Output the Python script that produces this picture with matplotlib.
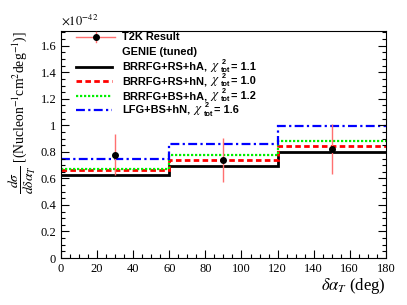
import numpy as np
import matplotlib.pyplot as plt
from matplotlib.lines import Line2D
from matplotlib.ticker import MultipleLocator

plt.rcParams['mathtext.fontset'] = 'stix'
plt.rcParams['font.family'] = 'Liberation Serif'

# bin edges and model predictions (units of 1e-42)
edges = [0, 60, 120, 180]
brrfg_rs_ha = [0.626, 0.69, 0.80]
brrfg_rs_hn = [0.66, 0.74, 0.845]
brrfg_bs_ha = [0.67, 0.78, 0.88]
lfg_bs_hn = [0.75, 0.86, 0.995]

# T2K data
data_x = [30, 90, 150]
data_y = [0.78, 0.74, 0.82]
data_err = [0.155, 0.165, 0.19]

# legend text
model_names = ['BRRFG+RS+hA,', 'BRRFG+RS+hN,', 'BRRFG+BS+hA,', 'LFG+BS+hN,']
chi2_vals = ['1.1', '1.0', '1.2', '1.6']

W, H = 407, 305
fig = plt.figure(figsize=(W / 100, H / 100), dpi=100)
ax = fig.add_axes([0.150, 0.154, 0.798, 0.744])

styles = [
    dict(color='black', lw=2.0),
    dict(color='#ff0000', lw=2.0, ls=(0, (2, 1.2))),
    dict(color='#00ee00', lw=1.6, ls=(0, (1, 0.8))),
    dict(color='#0000ff', lw=1.6, ls=(0, (4, 1.5, 1, 1.5))),
]
models = [brrfg_rs_ha, brrfg_rs_hn, brrfg_bs_ha, lfg_bs_hn]
for vals, st in zip(models, styles):
    ax.stairs(vals, edges, baseline=None, **st)

err_col = '#ff7070'
ax.errorbar(data_x, data_y, yerr=data_err, fmt='o', color='black', ms=4,
            ecolor=err_col, elinewidth=1.0, capsize=0)

ax.set_xlim(0, 180)
ax.set_ylim(0, 1.71)
ax.xaxis.set_major_locator(MultipleLocator(20))
ax.xaxis.set_minor_locator(MultipleLocator(5))
ax.yaxis.set_major_locator(MultipleLocator(0.2))
ax.yaxis.set_minor_locator(MultipleLocator(0.05))
ax.tick_params(which='both', direction='in', right=True, top=False, labelsize=9)
ax.tick_params(which='major', length=6, width=0.8)
ax.tick_params(which='minor', length=3, width=0.8)
ax.yaxis.set_major_formatter(plt.FuncFormatter(lambda v, p: '%g' % v))

ax.text(0.0, 1.015, r'$\times10^{-42}$', transform=ax.transAxes, fontsize=9,
        ha='left', va='bottom')
ax.set_xlabel(r'$\delta\alpha_T$ (deg)', fontsize=12, loc='right', labelpad=1)
ax.set_ylabel(r'$\dfrac{d\sigma}{d\delta\alpha_T}$ [(Nucleon$^{-1}$cm$^2$deg$^{-1}$)]',
              fontsize=9.8, loc='top', labelpad=2)

# legend, laid out by hand in pixels (ROOT style)
row_y = [37, 52, 67, 81, 96, 110]
x0, x1, xt = 76, 112, 122
fx = lambda px: px / W
fy = lambda py: 1 - py / H
lfont = {'family': 'Liberation Sans', 'weight': 'bold', 'size': 7.9}
sfont = {'family': 'Liberation Sans', 'weight': 'bold', 'size': 5.2}
renderer = fig.canvas.get_renderer()

def right_px(t):
    return t.get_window_extent(renderer).x1

fig.text(fx(xt), fy(row_y[0]), 'T2K Result', ha='left', va='center', fontdict=lfont)
fig.text(fx(xt), fy(row_y[1]), 'GENIE (tuned)', ha='left', va='center', fontdict=lfont)
xm = (x0 + 115) / 2
py = row_y[0]
fig.add_artist(Line2D([fx(x0), fx(115)], [fy(py), fy(py)], color=err_col, lw=1.0))
fig.add_artist(Line2D([fx(xm), fx(xm)], [fy(py - 5), fy(py + 5)], color=err_col, lw=1.0))
fig.add_artist(Line2D([fx(xm)], [fy(py)], marker='o', color='black', ms=4, lw=0))

for name, val, st, py in zip(model_names, chi2_vals, styles, row_y[2:]):
    fig.add_artist(Line2D([fx(x0), fx(x1)], [fy(py), fy(py)], **st))
    t = fig.text(fx(xt), fy(py), name, ha='left', va='center', fontdict=lfont)
    xc = right_px(t) + 3
    c = fig.text(fx(xc), fy(py + 0.5), r'$\chi$', ha='left', va='center', fontsize=9.5)
    xs = right_px(c) + 0.5
    s2 = fig.text(fx(xs + 1), fy(py - 4.5), '2', ha='left', va='center', fontdict=sfont)
    st_ = fig.text(fx(xs), fy(py + 4), 'tot', ha='left', va='center', fontdict=sfont)
    xe = max(right_px(s2), right_px(st_)) + 1
    fig.text(fx(xe), fy(py), '= ' + val, ha='left', va='center', fontdict=lfont)

fig.savefig('out.png', dpi=100)
